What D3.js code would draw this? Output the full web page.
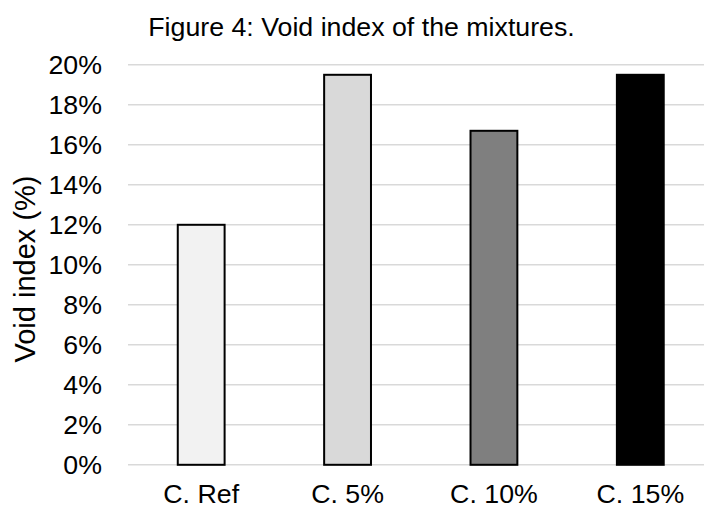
<!DOCTYPE html>
<html>
<head>
<meta charset="utf-8">
<script src="https://cdn.jsdelivr.net/npm/d3@7"></script>
<style>
  html, body { margin: 0; padding: 0; background: #fff; }
  svg { display: block; }
  text { font-family: "Liberation Sans", Arial, sans-serif; fill: #000; }
</style>
</head>
<body>
<script>
// Void index per mixture (%)
const categories = ["C. Ref", "C. 5%", "C. 10%", "C. 15%"];
const voidIndex = [12.0, 19.5, 16.7, 19.5];
const barColors = ["#f2f2f2", "#d9d9d9", "#7f7f7f", "#000000"];
const yTicks = [0, 2, 4, 6, 8, 10, 12, 14, 16, 18, 20];
const titleText = "Figure 4: Void index of the mixtures.";
const yTitle = "Void index (%)";

const W = 704, H = 509;
const sx = 1.07;           // glyphs are set slightly wide
const fontSize = 25;

const svg = d3.select("body").append("svg")
  .attr("width", W).attr("height", H);

const x = d3.scaleBand()
  .domain(categories)
  .range([128, 713.5])
  .paddingInner(0.68)
  .paddingOuter(0.34);

const y = d3.scaleLinear()
  .domain([0, 20])
  .range([464.8, 64.8]);

// horizontal gridlines
svg.append("g")
  .selectAll("line")
  .data(yTicks)
  .join("line")
  .attr("x1", 128).attr("x2", W)
  .attr("y1", d => y(d)).attr("y2", d => y(d))
  .attr("stroke", "#d9d9d9")
  .attr("stroke-width", 1.6);

// bars
svg.append("g")
  .selectAll("rect")
  .data(categories.map((c, i) => ({ c, v: voidIndex[i], col: barColors[i] })))
  .join("rect")
  .attr("x", d => x(d.c))
  .attr("width", x.bandwidth())
  .attr("y", d => y(d.v))
  .attr("height", d => y(0) - y(d.v))
  .attr("fill", d => d.col)
  .attr("stroke", "#000")
  .attr("stroke-width", 2);

// y tick labels
svg.append("g")
  .selectAll("text")
  .data(yTicks)
  .join("text")
  .attr("transform", d => `translate(102,${y(d) + 9}) scale(${sx},1)`)
  .attr("text-anchor", "end")
  .attr("font-size", fontSize)
  .text(d => d + "%");

// x category labels
svg.append("g")
  .selectAll("text")
  .data(categories)
  .join("text")
  .attr("transform", d => `translate(${x(d) + x.bandwidth() / 2},503) scale(${sx},1)`)
  .attr("text-anchor", "middle")
  .attr("font-size", fontSize)
  .text(d => d);

// y axis title
svg.append("text")
  .attr("transform", `translate(35,269) rotate(-90)`)
  .attr("text-anchor", "middle")
  .attr("font-size", 29)
  .text(yTitle);

// chart title
svg.append("text")
  .attr("transform", `translate(361.5,35.5) scale(${sx},1)`)
  .attr("text-anchor", "middle")
  .attr("font-size", fontSize)
  .text(titleText);
</script>
</body>
</html>
